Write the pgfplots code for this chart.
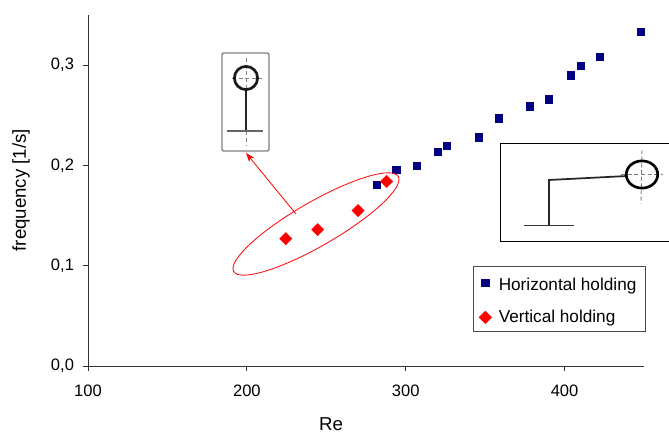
\documentclass[border=0pt]{standalone}
\usepackage{fontspec}
\setmainfont{Liberation Sans}
\usepackage{pgfplots}
\usetikzlibrary{arrows.meta}
\pgfplotsset{compat=1.18}
\definecolor{navyb}{HTML}{000080}
\pgfplotsset{myleg/.style={legend image code/.code={\draw[mark repeat=2,mark phase=2,##1,xshift=2pt] plot coordinates {(0cm,0cm) (0.3cm,0cm) (0.6cm,0cm)};}}}
\begin{document}
\begin{tikzpicture}
\useasboundingbox (0,0) rectangle (501.75pt,329.25pt);
\begin{axis}[
  at={(66pt,54.75pt)}, anchor=south west,
  scale only axis, width=417pt, height=263.25pt,
  xmin=100, xmax=450, ymin=0, ymax=0.35,
  axis x line*=bottom, axis y line*=left,
  axis line style={black!80, line width=0.7pt},
  clip=false,
  xtick={100,200,300,400}, ytick={0,0.1,0.2,0.3},
  tick style={black!80, line width=0.6pt},
  tick align=outside, major tick length=3.5pt,
  ticklabel style={font=\fontsize{12.4pt}{15pt}\selectfont},
  x tick label style={yshift=-7.5pt},
  /pgf/number format/assume math mode=true,
  xticklabel style={/pgf/number format/set thousands separator={}},
  y tick label style={xshift=-3.5pt,/pgf/number format/fixed,/pgf/number format/fixed zerofill,/pgf/number format/precision=1,/pgf/number format/use comma},
  xlabel={Re}, ylabel={frequency [1/s]},
  every axis x label/.style={at={(axis description cs:0.437,-0.165)},anchor=center,font=\fontsize{14pt}{17pt}\selectfont},
  every axis y label/.style={at={(axis description cs:-0.1205,0.501)},rotate=90,anchor=center,font=\fontsize{14pt}{17pt}\selectfont},
  legend style={at={(axis description cs:0.692,0.285)},anchor=north west,
    draw=black!70, line width=0.7pt, font=\fontsize{12.9pt}{15pt}\selectfont,
    inner xsep=4.6pt, inner ysep=3pt, row sep=9.5pt},
  legend cell align=left,
]
\addplot[only marks, myleg, mark=square*, mark size=2.7pt, mark options={draw=navyb,fill=navyb}] coordinates {
 (281.7,0.181) (294,0.196) (307,0.200) (320,0.214) (326,0.220) (346,0.228)
 (358.5,0.247) (378,0.259) (390,0.266) (404,0.290) (410,0.299) (422,0.308) (448,0.333)};
\addlegendentry{\rule{0pt}{12.8pt}\hspace{3.5pt}Horizontal holding}
\addplot[only marks, myleg, mark=square*, mark size=3.2pt, mark options={rotate=45,draw=red,fill=red}] coordinates {
 (224.5,0.127) (244.6,0.136) (270,0.155) (288,0.184)};
\addlegendentry{\hspace{3.5pt}Vertical holding}
\end{axis}
% annotations, in reference pixel coordinates
\begin{scope}[x=0.75pt,y=-0.75pt,yshift=329.25pt]
\draw[red, line width=0.6pt] (316,224) ellipse[x radius=71.25pt, y radius=16.5pt, rotate=30];
\draw[red, line width=0.6pt, -{Stealth[length=7pt,width=5pt]}] (296,214) -- (246,153);
% left inset
\draw[black!50, line width=1.1pt, rounded corners=1pt, fill=white] (222,53) rectangle (269,151);
\draw[black!50, densely dashed, line width=0.7pt] (246,58) -- (246,146);
\draw[black!50, densely dashed, line width=0.7pt] (232,78) -- (262,78);
\draw[black!85, line width=1.7pt] (246,90) -- (246,131);
\draw[black!60, line width=1pt] (227,131) -- (263,131);
\draw[black!90, line width=2pt] (246,78) circle[radius=8.7pt];
% right inset
\draw[black, line width=0.7pt] (670,143) -- (500,143) -- (500,241) -- (670,241);
\draw[black!85, line width=1.3pt] (549,225) -- (549,180) -- (627,176);
\draw[black!80, line width=0.7pt] (524,225) -- (574,225);
\draw[black!50, densely dashed, line width=0.7pt] (642,150) -- (641,204);
\draw[black!50, densely dashed, line width=0.7pt] (621,174) -- (663,174);
\draw[black, line width=2pt] (642,174.5) ellipse[x radius=11.8pt, y radius=10.2pt];
\end{scope}
\end{tikzpicture}
\end{document}
